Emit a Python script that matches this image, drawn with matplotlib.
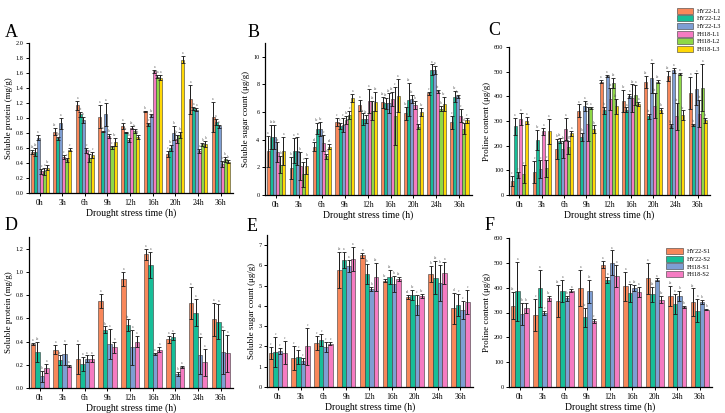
import numpy as np
import matplotlib.pyplot as plt

plt.rcParams['font.family'] = ['Liberation Serif', 'DejaVu Serif']

times = ['0h', '3h', '6h', '9h', '12h', '16h', '20h', '24h', '36h']
leaf_names = ['HY22-L1', 'HY22-L2', 'HY22-L3', 'FH18-L1', 'FH18-L2', 'FH18-L3']
stem_names = ['HY22-S1', 'HY22-S2', 'FH18-S1', 'FH18-S2']
colors = ['#F8875A', '#17BE98', '#7E9ED3', '#F57BC2', '#8ED846', '#FFD806']

## A: soluble protein in leaves (mg/g)
protL_HY1 = [0.55, 0.82, 1.17, 1.02, 0.89, 1.09, 0.52, 1.25, 1.02]
protL_HY2 = [0.55, 0.73, 1.05, 0.82, 0.81, 0.92, 0.60, 1.13, 0.95]
protL_HY3 = [0.74, 0.93, 0.98, 1.05, 0.71, 1.04, 0.80, 1.11, 0.89]
protL_FH1 = [0.29, 0.48, 0.57, 0.76, 0.87, 1.62, 0.72, 0.56, 0.39]
protL_FH2 = [0.29, 0.44, 0.47, 0.61, 0.83, 1.55, 0.77, 0.65, 0.45]
protL_FH3 = [0.34, 0.58, 0.51, 0.68, 0.75, 1.54, 1.78, 0.65, 0.42]
protL_err = [[0.03, 0.05, 0.06, 0.15, 0.04, 0.01, 0.04, 0.19, 0.20],
             [0.05, 0.02, 0.03, 0.01, 0.01, 0.02, 0.04, 0.02, 0.04],
             [0.03, 0.07, 0.04, 0.15, 0.03, 0.02, 0.09, 0.02, 0.02],
             [0.03, 0.03, 0.03, 0.03, 0.02, 0.02, 0.05, 0.03, 0.04],
             [0.05, 0.03, 0.05, 0.02, 0.03, 0.02, 0.04, 0.02, 0.03],
             [0.03, 0.02, 0.04, 0.05, 0.03, 0.03, 0.05, 0.04, 0.02]]
protL_sig = ['ab ab a c c bc', 'ab b a c c c', 'a ab b c c c',
             'a a a b c bc', 'a ab b ab ab ab', 'b c bc a a a',
             'c bc b bc b a', 'a a a c b b', 'a a a b b b']

## B: soluble sugar in leaves (ug/g)
sugL_HY1 = [3.15, 1.95, 3.5, 5.3, 6.5, 6.7, 5.9, 7.35, 5.25]
sugL_HY2 = [4.2, 3.2, 4.8, 5.0, 5.5, 6.65, 6.9, 9.05, 7.1]
sugL_HY3 = [4.2, 3.2, 4.8, 5.05, 5.5, 6.65, 6.95, 9.05, 7.15]
sugL_FH1 = [3.1, 2.1, 3.75, 5.45, 6.8, 6.95, 6.5, 7.5, 5.75]
sugL_FH2 = [2.2, 1.5, 2.8, 5.8, 6.1, 5.7, 4.95, 6.25, 4.8]
sugL_FH3 = [3.2, 2.1, 3.5, 7.0, 6.75, 7.2, 6.0, 6.6, 5.4]
sugL_err = [[1.1, 0.8, 0.3, 0.3, 0.4, 0.4, 0.5, 0.1, 0.5],
            [0.9, 0.9, 0.4, 0.2, 0.4, 0.4, 1.2, 0.4, 0.4],
            [0.9, 1.0, 0.5, 0.5, 0.3, 0.7, 0.3, 0.3, 0.1],
            [0.7, 1.0, 0.6, 0.3, 0.9, 0.5, 0.3, 0.1, 0.5],
            [0.6, 0.9, 0.2, 0.3, 0.7, 2.1, 0.2, 0.2, 0.4],
            [1.0, 0.6, 0.2, 0.3, 0.7, 1.2, 0.3, 0.5, 0.2]]
sugL_sig = ['a ab ab ab b a', 'b a a b c b', 'cd bc bc c d cd',
             'c c c bc c a', 'a ab ab a ab ab', 'ab ab ab ab c a',
             'bc ab ab b c bc', 'c a a ab b bc', 'c bc bc c d c']

## C: proline in leaves (ug/g)
proL_HY1 = [57, 93, 187, 342, 460, 380, 457, 483, 415]
proL_HY2 = [278, 222, 220, 235, 343, 345, 320, 278, 283]
proL_HY3 = [80, 105, 185, 360, 483, 400, 475, 505, 428]
proL_FH1 = [308, 258, 267, 288, 390, 393, 362, 320, 330]
proL_FH2 = [85, 108, 193, 353, 455, 405, 460, 490, 435]
proL_FH3 = [302, 258, 250, 267, 360, 370, 343, 323, 303]
proL_err = [[20, 45, 40, 25, 5, 45, 25, 20, 65],
            [35, 40, 10, 15, 15, 10, 10, 8, 5],
            [12, 35, 35, 20, 3, 8, 60, 10, 65],
            [25, 15, 45, 70, 45, 55, 50, 55, 55],
            [35, 35, 25, 5, 20, 40, 5, 5, 95],
            [15, 50, 10, 15, 30, 8, 10, 20, 10]]
proL_sig = ['c a c a c a', 'c bc c a c a', 'b ab b a b a',
            'a b a ab a b', 'a b a ab ab ab', 'bc a a ab a a',
            'ab ab a ab ab b', 'ab bc a ab a bc', 'a b a ab a b']

## D: soluble protein in stems (mg/g)
protS_HY1 = [0.38, 0.33, 0.25, 0.75, 0.94, 1.15, 0.42, 0.73, 0.59]
protS_HY2 = [0.31, 0.24, 0.21, 0.50, 0.54, 1.06, 0.44, 0.65, 0.57]
protS_FH1 = [0.10, 0.29, 0.25, 0.38, 0.35, 0.29, 0.12, 0.28, 0.31]
protS_FH2 = [0.17, 0.19, 0.25, 0.35, 0.40, 0.33, 0.18, 0.22, 0.30]
protS_err = [[0.01, 0.04, 0.13, 0.06, 0.06, 0.05, 0.03, 0.14, 0.14],
             [0.09, 0.04, 0.06, 0.03, 0.05, 0.11, 0.03, 0.12, 0.15],
             [0.05, 0.09, 0.03, 0.13, 0.15, 0.01, 0.02, 0.16, 0.19],
             [0.04, 0.01, 0.03, 0.05, 0.05, 0.02, 0.01, 0.12, 0.16]]
protS_sig = ['a ab b a', 'a ab a a', 'a a a a', 'a b a a', 'a ab a a',
             'a a a a', 'a a b a', 'a a a a', 'a a a a']

## E: soluble sugar in stems (ug/g)
sugS_HY1 = [1.68, 1.43, 2.17, 5.78, 6.5, 5.25, 4.43, 5.58, 3.88]
sugS_HY2 = [1.73, 1.5, 2.3, 6.27, 5.58, 5.43, 4.52, 5.4, 4.03]
sugS_FH1 = [1.77, 1.27, 1.97, 5.95, 4.85, 5.1, 4.05, 5.13, 3.8]
sugS_FH2 = [1.7, 2.0, 2.13, 6.3, 5.42, 5.32, 4.5, 5.62, 4.2]
sugS_err = [[0.3, 0.6, 0.35, 0.9, 0.12, 0.08, 0.1, 0.4, 0.75],
            [0.72, 0.35, 0.3, 0.4, 0.5, 0.35, 0.25, 0.8, 0.55],
            [0.15, 0.15, 0.25, 0.3, 0.1, 0.4, 0.5, 0.9, 0.45],
            [0.55, 0.92, 0.08, 0.6, 0.7, 0.1, 0.1, 0.55, 0.6]]
sugS_sig = ['c c c c', 'c c c c', 'c c c c', 'ab a a a', 'a b b ab',
            'bc ab b ab', 'cd bc c bc', 'b ab b a', 'd c c c']

## F: proline in stems (ug/g)
proS_HY1 = [328, 290, 345, 400, 493, 405, 438, 368, 342]
proS_HY2 = [385, 397, 387, 280, 430, 378, 373, 333, 308]
proS_FH1 = [293, 298, 357, 385, 500, 398, 432, 368, 343]
proS_FH2 = [318, 357, 388, 265, 447, 382, 352, 323, 312]
proS_err = [[55, 65, 65, 72, 15, 60, 62, 40, 55],
            [120, 75, 45, 40, 12, 35, 30, 40, 48],
            [45, 8, 10, 45, 50, 12, 5, 20, 8],
            [22, 10, 5, 8, 45, 20, 15, 3, 3]]
proS_sig = ['ab a b b', 'c a c bc', 'ab a b a', 'a bc ab c', 'a a a a',
            'a a ab a', 'a ab a bc', 'ab a b b', 'ab a b b']


def panel(ax, series, errs, sig, names, ymax, yticks, ylabel, fmt):
    n = len(series)
    w = 0.8 / n
    x = np.arange(len(times))
    for i in range(n):
        pos = x - 0.4 + w * (i + 0.5)
        ax.bar(pos, series[i], w, yerr=errs[i], color=colors[i], label=names[i],
               edgecolor='#3a3a3a', linewidth=0.4,
               error_kw=dict(ecolor='#1a1a1a', elinewidth=0.7, capsize=1.3, capthick=0.6))
        for j in range(len(times)):
            ax.text(pos[j], series[i][j] + errs[i][j] + ymax * 0.006, sig[j].split()[i],
                    ha='center', va='bottom', fontsize=2.5, color='#555555')
    ax.set_xlim(-0.47, 8.55)
    ax.set_ylim(0, ymax)
    ax.set_xticks(x)
    ax.set_xticklabels(times)
    ax.set_yticks(yticks)
    ax.set_yticklabels([fmt % t for t in yticks])
    ax.set_ylabel(ylabel, fontsize=6.5, labelpad=2)
    ax.set_xlabel('Drought stress time (h)', fontsize=7, labelpad=1)
    for s in ['top', 'right']:
        ax.spines[s].set_visible(False)
    for s in ['left', 'bottom']:
        ax.spines[s].set_linewidth(0.9)
    ax.tick_params(direction='out', length=2.5, width=0.7, labelsize=4.5, pad=1.5)
    ax.tick_params(axis='x', labelsize=5.5)
    return ax


fig = plt.figure(figsize=(7.25, 4.13), dpi=100)
W, H = 725.0, 413.0

def box(l, t, r, b):
    return [l / W, 1 - b / H, (r - l) / W, (b - t) / H]

axA = fig.add_axes(box(29, 43, 233, 193))
axB = fig.add_axes(box(265, 43, 472, 195))
axC = fig.add_axes(box(509, 47, 710, 195))
axD = fig.add_axes(box(29, 237, 233, 388))
axE = fig.add_axes(box(267, 235, 473, 387))
axF = fig.add_axes(box(509, 238, 712, 387))

panel(axA, [protL_HY1, protL_HY2, protL_HY3, protL_FH1, protL_FH2, protL_FH3], protL_err,
      protL_sig, leaf_names, 2.0, np.arange(0, 2.01, 0.2), 'Soluble protein (mg/g)', '%.1f')
panel(axB, [sugL_HY1, sugL_HY2, sugL_HY3, sugL_FH1, sugL_FH2, sugL_FH3], sugL_err,
      sugL_sig, leaf_names, 11, np.arange(0, 11, 2), 'Soluble sugar count (\u03bcg/g)', '%d')
panel(axC, [proL_HY1, proL_HY2, proL_HY3, proL_FH1, proL_FH2, proL_FH3], proL_err,
      proL_sig, leaf_names, 600, np.arange(0, 601, 100), 'Proline content (\u03bcg/g)', '%d')
panel(axD, [protS_HY1, protS_HY2, protS_FH1, protS_FH2], protS_err,
      protS_sig, stem_names, 1.3, np.arange(0, 1.21, 0.2), 'Soluble protein (mg/g)', '%.1f')
panel(axE, [sugS_HY1, sugS_HY2, sugS_FH1, sugS_FH2], sugS_err,
      sugS_sig, stem_names, 7.5, np.arange(0, 8, 1), 'Soluble sugar count (\u03bcg/g)', '%d')
panel(axF, [proS_HY1, proS_HY2, proS_FH1, proS_FH2], proS_err,
      proS_sig, stem_names, 600, np.arange(0, 601, 100), 'Proline content (\u03bcg/g)', '%d')

# panel letters
for lt, (px, py) in zip('ABCDEF', [(5, 37), (248, 37), (488, 35), (5, 230), (247, 231), (485, 230)]):
    fig.text(px / W, 1 - py / H, lt, fontsize=13, ha='left', va='baseline')

h, l = axC.get_legend_handles_labels()
fig.legend(h, l, loc='upper right', bbox_to_anchor=(724 / W, 1 - 5 / H), fontsize=4.5,
           frameon=False, handlelength=2.6, handleheight=1.1, labelspacing=0.25,
           handletextpad=0.6, borderaxespad=0)
axF.legend(loc='upper right', bbox_to_anchor=(1.02, 0.97), fontsize=4.5, frameon=False,
           handlelength=2.6, handleheight=1.1, labelspacing=0.25, handletextpad=0.6)

plt.savefig('out.png', dpi=100)
